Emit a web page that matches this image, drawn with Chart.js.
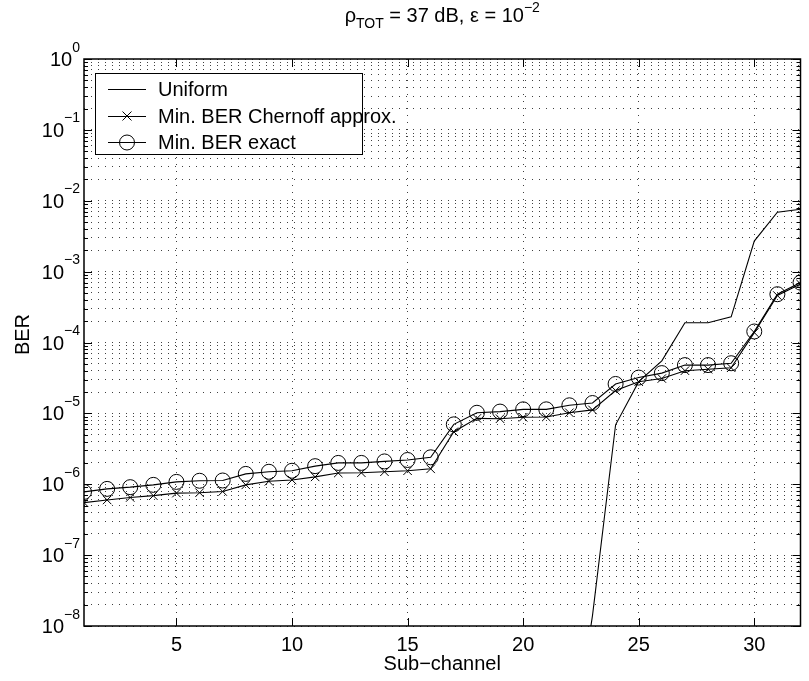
<!DOCTYPE html>
<html>
<head>
<meta charset="utf-8">
<script src="https://cdn.jsdelivr.net/npm/chart.js@4.4.1/dist/chart.umd.min.js"></script>
<style>
  html, body { margin: 0; padding: 0; background: #fff; }
</style>
</head>
<body>
<canvas id="chart" width="809" height="681"></canvas>
<script>
// sub-channel index 1..32
const subChannels = [1, 2, 3, 4, 5, 6, 7, 8, 9, 10, 11, 12, 13, 14, 15, 16,
                     17, 18, 19, 20, 21, 22, 23, 24, 25, 26, 27, 28, 29, 30, 31, 32];

// uniform allocation: far below 1e-8 up to sub-channel 22
const berUniform = [1e-12, 1e-12, 1e-12, 1e-12, 1e-12, 1e-12, 1e-12, 1e-12,
                    1e-12, 1e-12, 1e-12, 1e-12, 1e-12, 1e-12, 1e-12, 1e-12,
                    1e-12, 1e-12, 1e-12, 1e-12, 1e-12, 1e-10, 1.4e-8, 6.9e-6,
                    2.8e-5, 5.5e-5, 1.9e-4, 1.9e-4, 2.3e-4, 2.7e-3, 6.9e-3, 7.6e-3];

const berChernoff = [5.5e-7, 6.0e-7, 6.5e-7, 6.9e-7, 7.5e-7, 7.6e-7, 7.9e-7, 9.8e-7,
                     1.1e-6, 1.15e-6, 1.27e-6, 1.44e-6, 1.45e-6, 1.5e-6, 1.55e-6, 1.65e-6,
                     5.5e-6, 8.5e-6, 8.4e-6, 8.8e-6, 8.9e-6, 1.02e-5, 1.12e-5, 2.1e-5,
                     2.8e-5, 3.1e-5, 4.0e-5, 4.2e-5, 4.4e-5, 1.38e-4, 4.6e-4, 6.7e-4];

const berExact = [7.8e-7, 8.6e-7, 9.1e-7, 9.8e-7, 1.08e-6, 1.12e-6, 1.13e-6, 1.4e-6,
                  1.5e-6, 1.55e-6, 1.8e-6, 2.0e-6, 2.0e-6, 2.1e-6, 2.2e-6, 2.4e-6,
                  7.0e-6, 1.02e-5, 1.06e-5, 1.14e-5, 1.14e-5, 1.3e-5, 1.4e-5, 2.6e-5,
                  3.2e-5, 3.7e-5, 4.8e-5, 4.8e-5, 5.1e-5, 1.43e-4, 4.8e-4, 7.0e-4];

const xTickValues = [5, 10, 15, 20, 25, 30];
const yDecades = [-8, -7, -6, -5, -4, -3, -2, -1, 0];
const minorSteps = [2, 3, 4, 5, 6, 7, 8, 9];

const seriesLabels = ['Uniform', 'Min. BER Chernoff approx.', 'Min. BER exact'];

// every decade plus the minor 2..9 lines
const yGridValues = [];
yDecades.forEach(e => {
    yGridValues.push(Math.pow(10, e));
    if (e < 0) minorSteps.forEach(m => yGridValues.push(m * Math.pow(10, e)));
});

const FONT = '"Liberation Sans", Arial, Helvetica, sans-serif';

function drawPow(ctx, base, exp, x, y, size, align) {
    ctx.font = size + 'px ' + FONT;
    const wb = ctx.measureText(base).width;
    ctx.font = Math.round(size * 0.68) + 'px ' + FONT;
    const we = ctx.measureText(exp).width;
    let left = x;
    if (align === 'right') left = x - wb - we;
    if (align === 'center') left = x - (wb + we) / 2;
    ctx.textAlign = 'left';
    ctx.textBaseline = 'alphabetic';
    ctx.font = size + 'px ' + FONT;
    ctx.fillText(base, left, y);
    ctx.font = Math.round(size * 0.68) + 'px ' + FONT;
    ctx.fillText(exp, left + wb, y - size * 0.72);
}

const matlabDecor = {
    id: 'matlabDecor',
    afterDraw(chart) {
        const ctx = chart.ctx;
        const area = chart.chartArea;
        const xs = chart.scales.x;
        const ys = chart.scales.y;
        ctx.save();
        ctx.fillStyle = '#000';
        ctx.strokeStyle = '#000';

        // inward tick marks on all four sides
        ctx.lineWidth = 1;
        ctx.beginPath();
        xTickValues.forEach(v => {
            const px = Math.round(xs.getPixelForValue(v)) + 0.5;
            ctx.moveTo(px, area.bottom); ctx.lineTo(px, area.bottom - 8);
            ctx.moveTo(px, area.top); ctx.lineTo(px, area.top + 8);
        });
        yGridValues.forEach(v => {
            const py = Math.round(ys.getPixelForValue(v)) + 0.5;
            const len = Math.abs(Math.log10(v) - Math.round(Math.log10(v))) < 1e-9 ? 8 : 4;
            ctx.moveTo(area.left, py); ctx.lineTo(area.left + len, py);
            ctx.moveTo(area.right, py); ctx.lineTo(area.right - len, py);
        });
        ctx.stroke();

        // box
        ctx.lineWidth = 1.5;
        ctx.strokeRect(area.left, area.top, area.right - area.left, area.bottom - area.top);

        // x tick labels
        ctx.font = '20px ' + FONT;
        ctx.textAlign = 'center';
        ctx.textBaseline = 'alphabetic';
        xTickValues.forEach(v => {
            ctx.fillText(String(v), xs.getPixelForValue(v), area.bottom + 25);
        });

        // y tick labels 10^k
        yDecades.forEach(e => {
            const py = ys.getPixelForValue(Math.pow(10, e));
            const exp = e < 0 ? '\u2212' + (-e) : String(e);
            drawPow(ctx, '10', exp, area.left - 4, py + 7, 20, 'right');
        });

        // axis titles
        ctx.font = '20px ' + FONT;
        ctx.textAlign = 'center';
        ctx.textBaseline = 'alphabetic';
        ctx.fillText('Sub\u2212channel', (area.left + area.right) / 2, 670);
        ctx.save();
        ctx.translate(29, (area.top + area.bottom) / 2 - 8);
        ctx.rotate(-Math.PI / 2);
        ctx.fillText('BER', 0, 0);
        ctx.restore();

        // title: rho_TOT = 37 dB, eps = 10^-2
        const parts = [
            {t: '\u03c1', s: 20, dy: 0},
            {t: 'TOT', s: 14, dy: 6},
            {t: ' = 37 dB, \u03b5 = 10', s: 20, dy: 0},
            {t: '\u22122', s: 14, dy: -10}
        ];
        let total = 0;
        parts.forEach(p => { ctx.font = p.s + 'px ' + FONT; p.w = ctx.measureText(p.t).width; total += p.w; });
        let tx = (area.left + area.right) / 2 - total / 2;
        ctx.textAlign = 'left';
        parts.forEach(p => {
            ctx.font = p.s + 'px ' + FONT;
            ctx.fillText(p.t, tx, 22 + p.dy);
            tx += p.w;
        });

        // legend box
        const lx = 95, ly = 73, lw = 267, lh = 81;
        ctx.fillStyle = '#fff';
        ctx.fillRect(lx, ly, lw, lh);
        ctx.lineWidth = 1;
        ctx.strokeStyle = '#000';
        ctx.strokeRect(lx + 0.5, ly + 0.5, lw, lh);
        ctx.fillStyle = '#000';
        const rows = [89, 116, 142];
        ctx.font = '20px ' + FONT;
        ctx.textBaseline = 'middle';
        rows.forEach((ry, i) => {
            ctx.beginPath();
            ctx.moveTo(108, ry + 0.5); ctx.lineTo(146, ry + 0.5);
            ctx.stroke();
            if (i === 1) {
                ctx.beginPath();
                ctx.moveTo(127 - 4.5, ry - 4.5); ctx.lineTo(127 + 4.5, ry + 4.5);
                ctx.moveTo(127 - 4.5, ry + 4.5); ctx.lineTo(127 + 4.5, ry - 4.5);
                ctx.stroke();
            }
            if (i === 2) {
                ctx.beginPath();
                ctx.arc(127, ry + 0.5, 7.5, 0, Math.PI * 2);
                ctx.stroke();
            }
            ctx.fillText(seriesLabels[i], 158, ry + 1);
        });
        ctx.restore();
    }
};

new Chart(document.getElementById('chart').getContext('2d'), {
    type: 'line',
    data: {
        labels: subChannels,
        datasets: [
            {
                label: seriesLabels[0],
                data: subChannels.map((x, i) => ({x: x, y: berUniform[i]})),
                borderColor: '#000',
                borderWidth: 1.1,
                pointRadius: 0,
                fill: false,
                tension: 0
            },
            {
                label: seriesLabels[1],
                data: subChannels.map((x, i) => ({x: x, y: berChernoff[i]})),
                borderColor: '#000',
                borderWidth: 1.1,
                pointStyle: 'crossRot',
                pointRadius: 6,
                pointBorderWidth: 1,
                pointBorderColor: '#000',
                fill: false,
                tension: 0
            },
            {
                label: seriesLabels[2],
                data: subChannels.map((x, i) => ({x: x, y: berExact[i]})),
                borderColor: '#000',
                borderWidth: 1.1,
                pointStyle: 'circle',
                pointRadius: 7.5,
                pointBorderWidth: 1,
                pointBorderColor: '#000',
                pointBackgroundColor: 'rgba(0,0,0,0)',
                fill: false,
                tension: 0
            }
        ]
    },
    options: {
        responsive: false,
        devicePixelRatio: 1,
        animation: false,
        layout: {
            padding: {left: 84, right: 4, top: 59, bottom: 55}
        },
        plugins: {
            legend: {display: false},
            title: {display: false},
            tooltip: {enabled: false}
        },
        scales: {
            x: {
                type: 'linear',
                min: 1,
                max: 32,
                afterBuildTicks: s => { s.ticks = xTickValues.map(v => ({value: v})); },
                afterFit: s => { s.height = 0; },
                ticks: {display: false},
                grid: {color: 'rgba(0,0,0,0.75)', lineWidth: 1, drawTicks: false},
                border: {display: false, dash: [1, 6]}
            },
            y: {
                type: 'logarithmic',
                min: 1e-8,
                max: 1,
                afterBuildTicks: s => { s.ticks = yGridValues.map(v => ({value: v})); },
                afterFit: s => { s.width = 0; },
                ticks: {display: false},
                grid: {color: 'rgba(0,0,0,0.75)', lineWidth: 1, drawTicks: false},
                border: {display: false, dash: [1, 6]}
            }
        }
    },
    plugins: [matlabDecor]
});
</script>
</body>
</html>
